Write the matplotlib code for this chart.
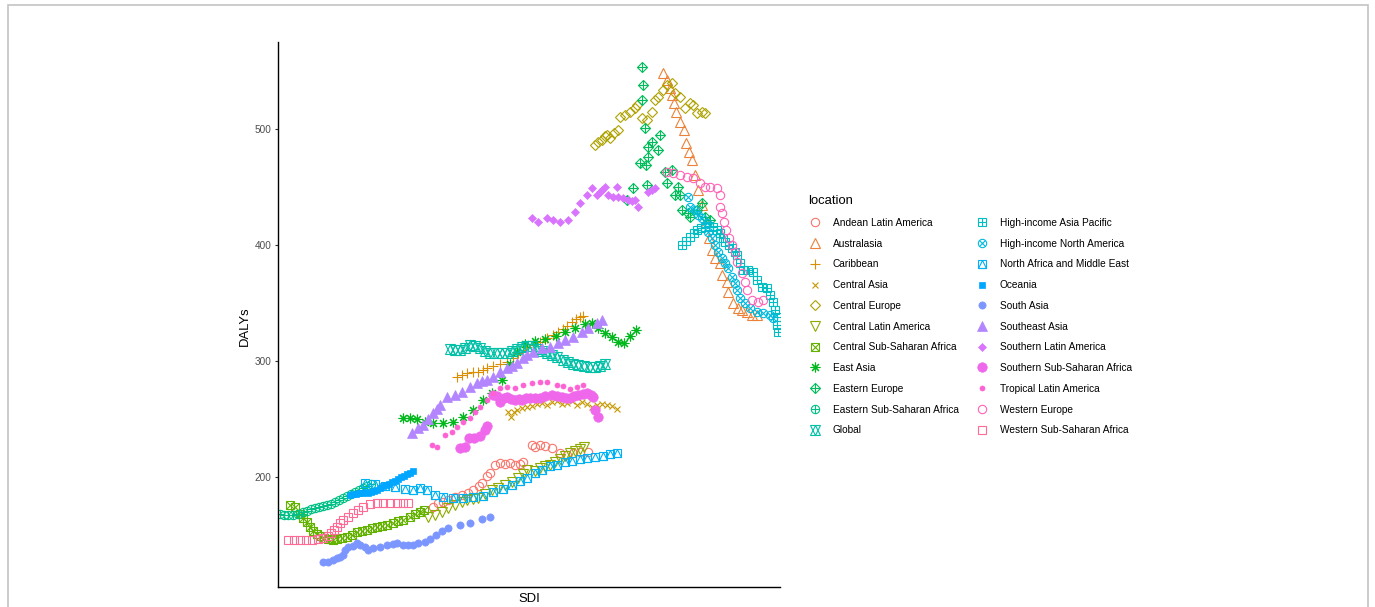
import numpy as np
import matplotlib
matplotlib.use("Agg")
import matplotlib.pyplot as plt
from matplotlib.patches import Rectangle
from matplotlib.legend_handler import HandlerTuple

plt.rcParams['font.family'] = ['Liberation Sans', 'DejaVu Sans']

locations = ["Andean Latin America", "Australasia", "Caribbean", "Central Asia",
             "Central Europe", "Central Latin America", "Central Sub-Saharan Africa",
             "East Asia", "Eastern Europe", "Eastern Sub-Saharan Africa", "Global",
             "High-income Asia Pacific", "High-income North America",
             "North Africa and Middle East", "Oceania", "South Asia", "Southeast Asia",
             "Southern Latin America", "Southern Sub-Saharan Africa",
             "Tropical Latin America", "Western Europe", "Western Sub-Saharan Africa"]

# SDI / DALYs, one pair of lists per location
andean_sdi = [0.433, 0.438, 0.443, 0.448, 0.455, 0.462, 0.468, 0.473, 0.479, 0.482, 0.487, 0.490, 0.495, 0.500, 0.505,
              0.510, 0.515, 0.520, 0.523, 0.532, 0.535, 0.540, 0.545, 0.552, 0.560, 0.567, 0.573, 0.580, 0.588]
andean_daly = [174.1, 177.6, 178.5, 180.2, 182.8, 184.5, 186.2, 188.8, 192.2, 194.8, 200.9, 203.4, 210.3, 212.1, 211.2,
               212.1, 210.3, 211.2, 212.9, 227.6, 225.9, 227.6, 226.7, 225.0, 220.7, 219.0, 220.7, 221.6, 221.6]

australasia_sdi = [0.663, 0.667, 0.670, 0.672, 0.674, 0.676, 0.680, 0.684, 0.686, 0.689, 0.692, 0.695, 0.698, 0.702,
                   0.706, 0.709, 0.712, 0.715, 0.720, 0.722, 0.727, 0.728, 0.733, 0.738, 0.742, 0.747, 0.752, 0.757]
australasia_daly = [548.3, 542.2, 535.3, 529.3, 522.4, 514.6, 506.0, 499.2, 487.9, 480.2, 473.3, 460.3, 447.4, 434.5,
                    419.8, 406.0, 395.7, 388.8, 384.5, 374.1, 368.1, 359.5, 350.0, 345.7, 344.0, 342.2, 339.7, 339.7]

caribbean_sdi = [0.457, 0.462, 0.467, 0.473, 0.478, 0.483, 0.487, 0.493, 0.500, 0.507, 0.513, 0.518, 0.523, 0.527,
                 0.533, 0.540, 0.547, 0.553, 0.558, 0.563, 0.567, 0.572, 0.576, 0.580, 0.583]
caribbean_daly = [286.2, 287.9, 289.7, 290.5, 290.5, 292.2, 294.0, 295.7, 297.4, 299.1, 302.6, 306.9, 309.5, 312.1,
                  313.8, 316.4, 319.8, 322.4, 325.0, 327.6, 330.2, 333.6, 336.2, 337.9, 338.8]

central_asia_sdi = [0.508, 0.511, 0.514, 0.517, 0.522, 0.527, 0.532, 0.537, 0.542, 0.547, 0.552, 0.557, 0.562, 0.567,
                    0.572, 0.577, 0.582, 0.587, 0.592, 0.597, 0.602, 0.607, 0.612, 0.617]
central_asia_daly = [256.0, 251.7, 256.0, 257.8, 259.5, 260.4, 261.2, 262.9, 263.8, 262.1, 264.7, 265.5, 262.9, 263.8,
                     265.5, 262.1, 264.7, 262.9, 260.4, 262.1, 262.9, 262.1, 261.2, 258.6]

central_europe_sdi = [0.595, 0.598, 0.602, 0.605, 0.607, 0.610, 0.614, 0.618, 0.620, 0.625, 0.630, 0.635, 0.637, 0.642,
                      0.647, 0.652, 0.655, 0.658, 0.663, 0.667, 0.672, 0.675, 0.680, 0.685, 0.690, 0.693, 0.697, 0.702,
                      0.705]
central_europe_daly = [486.2, 488.8, 490.5, 494.0, 494.8, 492.2, 496.6, 499.2, 510.3, 512.1, 514.6, 518.1, 520.7, 509.5,
                       507.8, 514.6, 525.0, 527.6, 533.6, 537.9, 539.7, 531.0, 527.6, 518.1, 522.4, 520.7, 513.8, 514.6,
                       513.8]

central_latam_sdi = [0.428, 0.435, 0.442, 0.448, 0.455, 0.462, 0.467, 0.473, 0.478, 0.485, 0.492, 0.498, 0.505, 0.512,
                     0.518, 0.523, 0.527, 0.535, 0.540, 0.545, 0.550, 0.555, 0.560, 0.565, 0.570, 0.575, 0.580, 0.584]
central_latam_daly = [165.5, 167.2, 169.8, 173.3, 175.9, 178.5, 180.2, 181.0, 181.9, 185.3, 188.8, 190.5, 193.1, 195.7,
                      199.1, 202.6, 206.0, 205.2, 207.8, 209.5, 210.3, 212.9, 215.5, 218.1, 220.7, 222.4, 224.2, 225.9]

central_ssa_sdi = [0.290, 0.295, 0.300, 0.303, 0.307, 0.310, 0.313, 0.317, 0.320, 0.324, 0.328, 0.333, 0.337, 0.342,
                   0.347, 0.352, 0.357, 0.362, 0.367, 0.372, 0.377, 0.382, 0.387, 0.393, 0.398, 0.403, 0.410, 0.415,
                   0.420, 0.424]
central_ssa_daly = [175.9, 174.1, 168.1, 164.7, 161.2, 156.9, 153.4, 150.9, 149.1, 147.4, 146.6, 145.7, 146.6, 147.4,
                    148.3, 150.0, 152.6, 153.4, 154.3, 156.0, 156.9, 157.8, 158.6, 160.3, 162.1, 162.9, 165.5, 168.1,
                    169.8, 171.6]

east_asia_sdi = [0.403, 0.410, 0.417, 0.425, 0.433, 0.443, 0.453, 0.463, 0.473, 0.483, 0.492, 0.502, 0.510, 0.517,
                 0.525, 0.535, 0.545, 0.556, 0.565, 0.575, 0.585, 0.592, 0.598, 0.605, 0.612, 0.618, 0.624, 0.630, 0.636]
east_asia_daly = [250.9, 250.9, 250.0, 247.4, 246.6, 246.6, 247.4, 251.7, 257.8, 266.4, 272.4, 283.6, 297.4, 307.8,
                  314.7, 317.2, 318.9, 321.6, 325.0, 328.5, 331.9, 332.8, 328.5, 324.1, 320.7, 316.4, 315.5, 321.6, 326.7]

eastern_europe_sdi = [0.627, 0.633, 0.640, 0.642, 0.643, 0.642, 0.645, 0.646, 0.647, 0.648, 0.648, 0.652, 0.658, 0.660,
                      0.665, 0.667, 0.672, 0.675, 0.678, 0.680, 0.682, 0.688, 0.690, 0.697, 0.702, 0.705, 0.710]
eastern_europe_daly = [438.8, 449.1, 470.7, 553.4, 537.9, 525.0, 500.9, 469.0, 451.7, 484.5, 475.9, 488.8, 481.9, 494.8,
                       462.9, 453.5, 464.7, 443.1, 450.0, 443.1, 430.2, 427.6, 424.1, 430.2, 436.2, 424.1, 421.6]

eastern_ssa_sdi = [0.280, 0.284, 0.288, 0.293, 0.298, 0.303, 0.307, 0.311, 0.315, 0.319, 0.323, 0.327, 0.331, 0.335,
                   0.339, 0.343, 0.347, 0.351, 0.355, 0.359, 0.363, 0.367, 0.371]
eastern_ssa_daly = [168.1, 167.2, 167.2, 167.2, 168.1, 169.8, 170.7, 172.4, 173.3, 174.1, 175.0, 175.9, 176.7, 178.5,
                    180.2, 181.9, 183.6, 185.3, 187.1, 188.8, 190.5, 192.2, 194.0]

global_sdi = [0.450, 0.455, 0.460, 0.465, 0.470, 0.475, 0.480, 0.485, 0.490, 0.497, 0.502, 0.507, 0.512, 0.517, 0.522,
              0.527, 0.532, 0.537, 0.542, 0.547, 0.552, 0.557, 0.563, 0.568, 0.573, 0.578, 0.584, 0.590, 0.595, 0.600,
              0.605]
global_daly = [310.3, 309.5, 309.5, 311.2, 313.8, 312.9, 311.2, 308.6, 306.9, 306.9, 306.9, 306.9, 308.6, 310.3, 312.1,
               312.9, 312.9, 310.3, 308.6, 306.9, 305.2, 303.4, 300.9, 299.1, 297.4, 296.6, 295.7, 294.8, 294.8, 295.7,
               297.4]

hi_asia_pacific_sdi = [0.682, 0.686, 0.690, 0.694, 0.697, 0.701, 0.705, 0.709, 0.713, 0.717, 0.720, 0.723, 0.725, 0.729,
                       0.732, 0.735, 0.737, 0.740, 0.743, 0.748, 0.753, 0.757, 0.762, 0.767, 0.770, 0.773, 0.775, 0.777,
                       0.777, 0.778]
hi_asia_pacific_daly = [400.0, 403.4, 406.9, 410.3, 412.9, 414.7, 415.5, 416.4, 415.5, 412.9, 410.3, 406.0, 402.6,
                        400.0, 397.4, 393.9, 391.4, 384.5, 378.4, 378.4, 376.7, 369.8, 363.8, 362.9, 356.9, 350.9,
                        344.0, 337.9, 331.0, 325.0]

hi_north_america_sdi = [0.688, 0.690, 0.695, 0.698, 0.702, 0.707, 0.708, 0.712, 0.715, 0.718, 0.722, 0.725, 0.728,
                        0.732, 0.735, 0.737, 0.740, 0.745, 0.750, 0.757, 0.763, 0.770, 0.773]
hi_north_america_daly = [441.4, 432.8, 430.2, 425.9, 423.3, 419.0, 411.2, 406.0, 400.0, 393.9, 388.8, 384.5, 380.2,
                         372.4, 367.2, 361.2, 354.3, 350.0, 345.7, 342.2, 341.4, 339.7, 337.1]

name_sdi = [0.365, 0.375, 0.385, 0.395, 0.405, 0.413, 0.420, 0.427, 0.435, 0.443, 0.453, 0.463, 0.473, 0.483, 0.493,
            0.503, 0.512, 0.520, 0.527, 0.535, 0.542, 0.550, 0.557, 0.565, 0.572, 0.580, 0.587, 0.595, 0.603, 0.610,
            0.617]
name_daly = [194.8, 194.0, 192.2, 191.4, 189.7, 188.8, 190.5, 188.8, 184.5, 182.8, 181.9, 181.9, 182.8, 183.6, 187.1,
             189.7, 193.1, 196.6, 199.1, 203.4, 206.0, 209.5, 210.3, 212.9, 213.8, 215.5, 216.4, 217.2, 218.1, 219.8,
             220.7]

oceania_sdi = [0.350, 0.353, 0.356, 0.359, 0.362, 0.365, 0.368, 0.371, 0.374, 0.377, 0.380, 0.383, 0.386, 0.389, 0.392,
               0.395, 0.398, 0.401, 0.404, 0.407, 0.410, 0.413]
oceania_daly = [184.5, 185.3, 185.3, 186.2, 186.2, 187.1, 186.2, 187.1, 187.9, 188.8, 190.5, 192.2, 193.1, 194.0, 195.7,
                196.6, 198.3, 200.0, 200.9, 202.6, 203.4, 205.2]

south_asia_sdi = [0.323, 0.328, 0.333, 0.337, 0.340, 0.343, 0.345, 0.348, 0.353, 0.357, 0.360, 0.365, 0.368, 0.373,
                  0.380, 0.387, 0.393, 0.397, 0.403, 0.408, 0.413, 0.418, 0.425, 0.430, 0.436, 0.442, 0.448, 0.460,
                  0.470, 0.482, 0.490]
south_asia_daly = [126.7, 126.7, 128.4, 130.2, 131.0, 132.8, 137.1, 139.7, 140.5, 143.1, 141.4, 139.7, 137.1, 138.8,
                   139.7, 141.4, 142.2, 143.1, 141.4, 141.4, 141.4, 143.1, 143.9, 146.6, 150.0, 153.4, 156.0, 158.6,
                   160.3, 163.8, 165.5]

southeast_asia_sdi = [0.412, 0.418, 0.423, 0.428, 0.433, 0.437, 0.440, 0.447, 0.455, 0.462, 0.470, 0.477, 0.482, 0.487,
                      0.493, 0.500, 0.507, 0.512, 0.517, 0.523, 0.527, 0.533, 0.542, 0.550, 0.558, 0.565, 0.573, 0.582,
                      0.588, 0.597, 0.602]
southeast_asia_daly = [237.9, 242.2, 244.8, 250.0, 255.2, 258.6, 262.1, 269.0, 270.7, 273.3, 277.6, 281.0, 282.8, 283.6,
                       286.2, 290.5, 294.0, 295.7, 298.3, 302.6, 305.2, 307.8, 311.2, 312.1, 315.5, 318.1, 320.7, 325.0,
                       328.5, 332.8, 335.3]

southern_latam_sdi = [0.532, 0.538, 0.547, 0.553, 0.560, 0.568, 0.575, 0.580, 0.587, 0.592, 0.597, 0.600, 0.602, 0.605,
                      0.608, 0.613, 0.617, 0.618, 0.623, 0.628, 0.632, 0.635, 0.638, 0.648, 0.652, 0.655]
southern_latam_daly = [423.3, 419.8, 423.3, 421.6, 419.8, 421.6, 428.5, 436.2, 443.1, 449.1, 443.1, 445.7, 447.4, 450.0,
                       443.1, 441.4, 450.0, 441.4, 440.5, 438.8, 437.9, 438.8, 432.8, 445.7, 447.4, 449.1]

southern_ssa_sdi = [0.460, 0.465, 0.469, 0.474, 0.480, 0.485, 0.487, 0.493, 0.497, 0.500, 0.504, 0.507, 0.511, 0.515,
                    0.519, 0.522, 0.526, 0.530, 0.535, 0.540, 0.545, 0.552, 0.557, 0.562, 0.566, 0.570, 0.574, 0.578,
                    0.583, 0.587, 0.591, 0.593, 0.595, 0.598]
southern_ssa_daly = [225.0, 225.9, 233.6, 233.6, 235.3, 240.5, 244.0, 270.7, 269.8, 264.7, 268.1, 269.0, 267.3, 266.4,
                     267.3, 266.4, 268.1, 268.1, 268.1, 268.1, 269.8, 270.7, 269.8, 269.0, 268.1, 268.1, 269.8, 270.7,
                     271.6, 272.4, 270.7, 269.0, 257.8, 251.7]

tropical_latam_sdi = [0.432, 0.437, 0.445, 0.452, 0.457, 0.463, 0.470, 0.475, 0.480, 0.487, 0.493, 0.500, 0.507, 0.515,
                      0.523, 0.532, 0.540, 0.547, 0.557, 0.563, 0.570, 0.577, 0.583]
tropical_latam_daly = [227.6, 225.9, 236.2, 238.8, 243.1, 247.4, 250.9, 256.0, 260.4, 266.4, 272.4, 276.7, 277.6, 276.7,
                       279.3, 281.0, 281.9, 281.9, 279.3, 278.5, 275.9, 277.6, 279.3]

western_europe_sdi = [0.667, 0.673, 0.680, 0.687, 0.693, 0.700, 0.705, 0.710, 0.717, 0.720, 0.720, 0.722, 0.724, 0.726,
                      0.729, 0.732, 0.735, 0.737, 0.742, 0.745, 0.747, 0.752, 0.758, 0.763]
western_europe_daly = [462.9, 462.1, 460.3, 458.6, 457.8, 453.5, 450.0, 450.0, 449.1, 443.1, 432.8, 427.6, 419.8, 412.9,
                       406.0, 400.0, 393.9, 385.3, 375.9, 368.1, 361.2, 352.6, 350.9, 352.6]

western_ssa_sdi = [0.288, 0.294, 0.300, 0.306, 0.312, 0.318, 0.323, 0.328, 0.331, 0.334, 0.337, 0.340, 0.343, 0.348,
                   0.353, 0.358, 0.363, 0.370, 0.377, 0.383, 0.390, 0.397, 0.403, 0.408]
western_ssa_daly = [145.7, 145.7, 145.7, 145.7, 145.7, 146.6, 147.4, 149.1, 151.7, 154.3, 156.9, 160.3, 162.9, 165.5,
                    169.0, 171.6, 174.1, 176.7, 177.6, 177.6, 177.6, 177.6, 177.6, 177.6]

series = [
    (andean_sdi, andean_daly), (australasia_sdi, australasia_daly), (caribbean_sdi, caribbean_daly),
    (central_asia_sdi, central_asia_daly), (central_europe_sdi, central_europe_daly),
    (central_latam_sdi, central_latam_daly), (central_ssa_sdi, central_ssa_daly),
    (east_asia_sdi, east_asia_daly), (eastern_europe_sdi, eastern_europe_daly),
    (eastern_ssa_sdi, eastern_ssa_daly), (global_sdi, global_daly),
    (hi_asia_pacific_sdi, hi_asia_pacific_daly), (hi_north_america_sdi, hi_north_america_daly),
    (name_sdi, name_daly), (oceania_sdi, oceania_daly), (south_asia_sdi, south_asia_daly),
    (southeast_asia_sdi, southeast_asia_daly), (southern_latam_sdi, southern_latam_daly),
    (southern_ssa_sdi, southern_ssa_daly), (tropical_latam_sdi, tropical_latam_daly),
    (western_europe_sdi, western_europe_daly), (western_ssa_sdi, western_ssa_daly),
]

# ggplot-like shapes: (marker, size, filled) pieces drawn on top of each other
shapes = [
    [('o', 6.0, False)], [('^', 7.0, False)], [('+', 6.8, False)], [('x', 5.0, False)],
    [('D', 5.0, False)], [('v', 7.0, False)], [('s', 5.5, False), ('x', 5.5, False)],
    [((8, 2, 0), 7.0, False)], [('D', 5.0, False), ('+', 7.0, False)],
    [('o', 6.0, False), ('+', 6.0, False)], [('^', 7.0, False), ('v', 7.0, False)],
    [('s', 5.5, False), ('+', 5.5, False)], [('o', 6.0, False), ('x', 4.2, False)],
    [('s', 5.5, False), ('^', 5.5, False)], [('s', 5.0, True)], [('o', 5.2, True)],
    [('^', 6.5, True)], [('D', 3.6, True)], [('o', 6.8, True)], [('o', 3.6, True)],
    [('o', 6.0, False)], [('s', 5.5, False)],
]


def hue_colors(n, l=65.0, c=100.0):
    # same as ggplot's default hue palette (hcl colours)
    wx, wy, wz = 95.047, 100.0, 108.883
    un, vn = 0.1978398, 0.4683363
    cols = []
    for h in np.linspace(15, 375, n + 1)[:-1]:
        u = c * np.cos(np.radians(h)) / (13 * l) + un
        v = c * np.sin(np.radians(h)) / (13 * l) + vn
        Y = wy * ((l + 16) / 116) ** 3
        X = 9 * Y * u / (4 * v)
        Z = -X / 3 - 5 * Y + 3 * Y / v
        rgb = np.array([3.240479 * X - 1.537150 * Y - 0.498535 * Z,
                        -0.969256 * X + 1.875992 * Y + 0.041556 * Z,
                        0.055648 * X - 0.204043 * Y + 1.057311 * Z]) / wy
        rgb = np.where(rgb > 0.00304, 1.055 * np.abs(rgb) ** (1 / 2.4) - 0.055, 12.92 * rgb)
        cols.append(tuple(np.clip(rgb, 0, 1)))
    return cols


colors = hue_colors(len(locations))

fig = plt.figure(figsize=(13.75, 6.07), dpi=100)
ax = fig.add_axes([278 / 1375, 1 - 587 / 607, 502 / 1375, 545 / 607])

entries = []
for (sdi, daly), shape, col in zip(series, shapes, colors):
    parts = []
    for marker, size, filled in shape:
        line, = ax.plot(sdi, daly, linestyle='none', marker=marker, markersize=size,
                        markerfacecolor=col if filled else 'none', markeredgecolor=col,
                        markeredgewidth=0.5 if filled else 0.8)
        parts.append(line)
    entries.append(tuple(parts))

ax.set_xlim(0.278, 0.780)
ax.set_ylim(105.2, 575)
ax.set_xticks([])
ax.set_yticks([200, 300, 400, 500])
ax.tick_params(axis='y', length=2.5, width=0.8, color='#333333', labelcolor='#4D4D4D', labelsize=7.2, pad=2)
for side in ['top', 'right']:
    ax.spines[side].set_visible(False)
for side in ['left', 'bottom']:
    ax.spines[side].set_linewidth(1.0)
ax.set_xlabel('SDI', fontsize=9.4, labelpad=4)
ax.set_ylabel('DALYs', fontsize=9.4)
ax.yaxis.set_label_coords(-0.054, 0.479)

ax.legend(entries, locations, handler_map={tuple: HandlerTuple(ndivide=1, pad=0)},
          ncol=2, loc='upper left', bbox_to_anchor=(803 / 1375, 1 - 190 / 607),
          bbox_transform=fig.transFigure, frameon=False, title='location', title_fontsize=9.4,
          fontsize=7.3, handlelength=1.4, handletextpad=1.05, columnspacing=1.6,
          labelspacing=1.06, borderpad=0, alignment='left')

# light grey frame round the whole picture
fig.add_artist(Rectangle((8 / 1375, -0.02), 1360 / 1375, 1.02 - 5 / 607, transform=fig.transFigure,
                         fill=False, edgecolor='#c4c4c4', linewidth=1.2))

fig.savefig('out.png', dpi=100)
